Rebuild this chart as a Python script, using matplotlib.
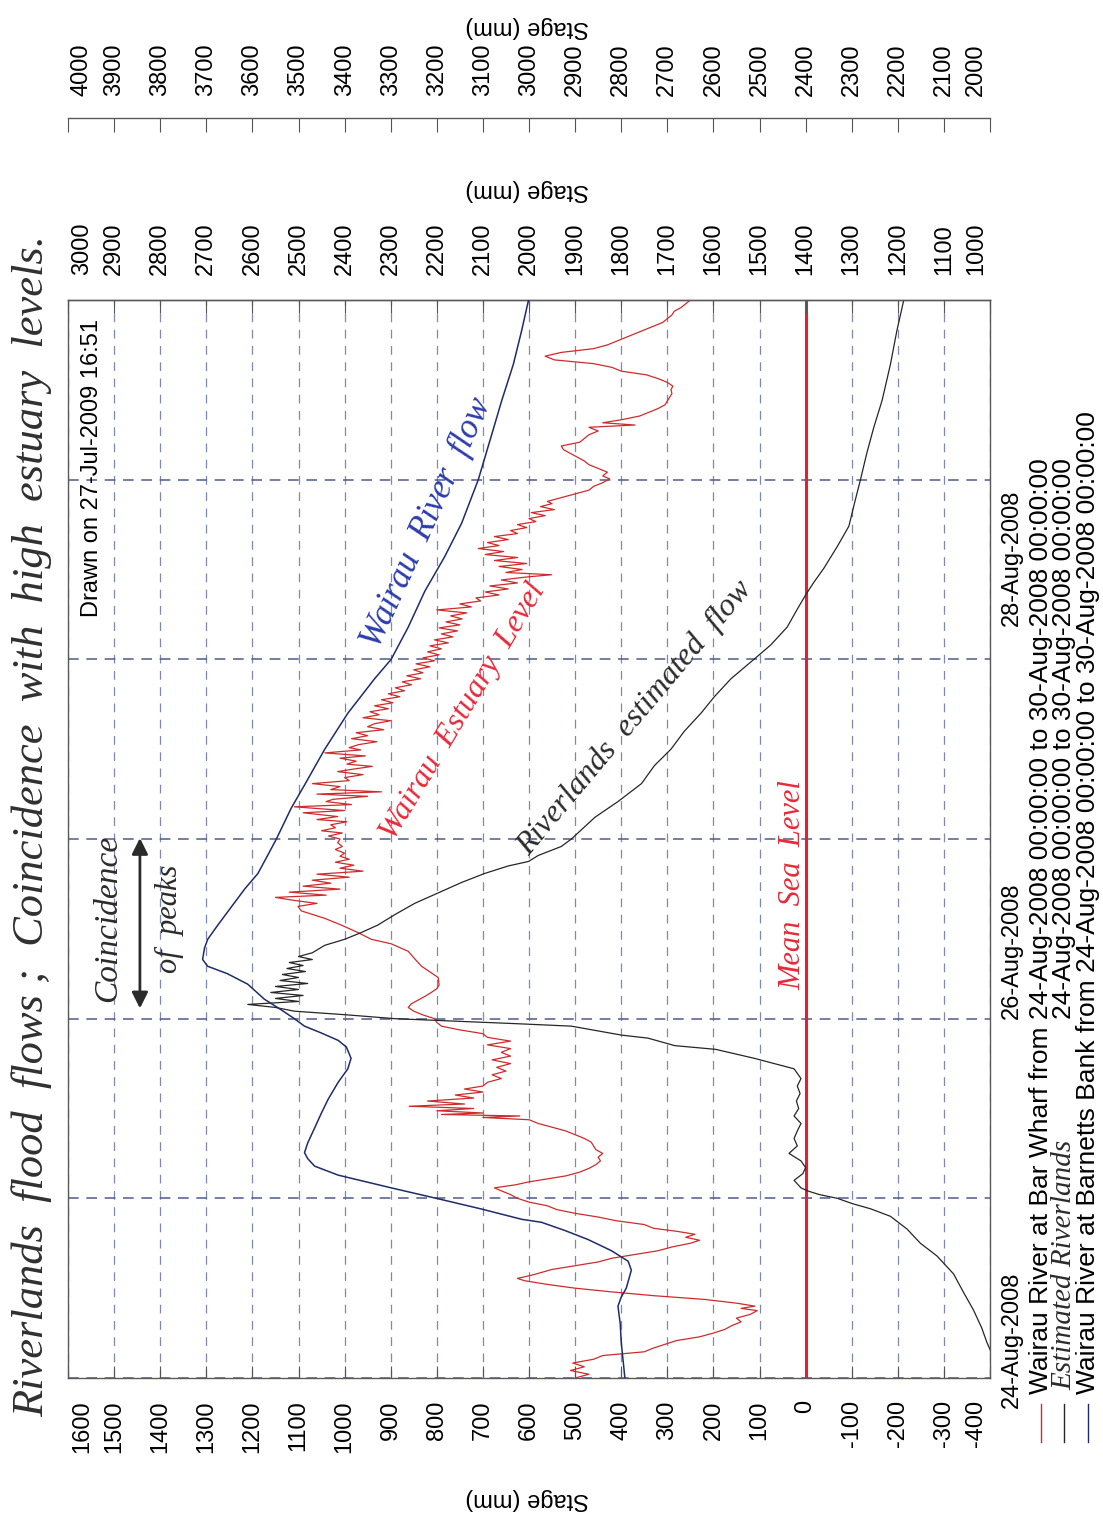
import matplotlib.pyplot as plt
import matplotlib.transforms as mtransforms
from matplotlib.lines import Line2D
import numpy as np

# hours after 24-Aug-2008 00:00 -> stage (mm)
bar_wharf = [
    (0.0, 500), (0.5, 470), (1.0, 510), (1.5, 480), (2.0, 505), (2.5, 460), (3.0, 440),
    (3.5, 350), (4.0, 330), (5.0, 280), (5.5, 230), (6.0, 200), (6.5, 175), (7.0, 160),
    (7.5, 140), (8.0, 150), (8.5, 120), (9.0, 105), (9.3, 140), (9.6, 110), (10.0, 150),
    (10.5, 220), (11.0, 330), (11.5, 420), (12.0, 500), (12.5, 560), (13.0, 610),
    (13.3, 625), (13.8, 590), (14.5, 550), (15.0, 500), (15.5, 450), (16.0, 420),
    (16.5, 370), (17.0, 320), (17.5, 290), (18.0, 250), (18.4, 230), (18.8, 260),
    (19.2, 240), (19.6, 280), (20.0, 330), (20.5, 350), (21.0, 410), (21.5, 450),
    (22.0, 500), (22.5, 540), (23.0, 560), (23.5, 600), (24.0, 625), (24.5, 640),
    (25.0, 660), (25.4, 675), (25.8, 630), (26.2, 600), (26.6, 560), (27.0, 520),
    (27.5, 490), (28.0, 470), (28.5, 455), (29.0, 445), (29.5, 450), (30.0, 440),
    (30.5, 455), (31.0, 460), (31.5, 465), (32.0, 480), (32.5, 500), (33.0, 520),
    (33.5, 550), (34.0, 580), (34.5, 600), (34.8, 700), (35.0, 620), (35.2, 790),
    (35.4, 700), (35.7, 800), (36.0, 720), (36.3, 860), (36.6, 740), (37.0, 820),
    (37.4, 720), (37.8, 760), (38.2, 700), (38.6, 740), (39.0, 700), (39.5, 690),
    (40.0, 660), (40.5, 680), (41.0, 650), (41.5, 670), (42.0, 640), (42.5, 680),
    (43.0, 640), (43.5, 660), (44.0, 640), (44.5, 690), (45.0, 640), (45.5, 690),
    (46.0, 700), (46.5, 750), (47.0, 790), (47.5, 800), (48.0, 805), (48.5, 830),
    (49.0, 850), (49.5, 862), (50.0, 855), (50.5, 840), (51.0, 825), (51.5, 812),
    (52.0, 800), (52.5, 795), (53.5, 797), (55.0, 833), (56.0, 848), (57.0, 862),
    (58.0, 899), (58.6, 942), (59.5, 971), (60.5, 1007), (61.4, 1043), (62.4, 1094),
    (63.0, 1101), (63.4, 1060), (63.8, 1110), (64.2, 1150), (64.5, 1040), (64.9, 1120),
    (65.3, 1010), (65.7, 1090), (66.1, 1030), (66.5, 1070), (66.9, 990), (67.3, 1060),
    (67.7, 960), (68.1, 1010), (68.5, 980), (68.9, 1020), (69.3, 990), (69.7, 1010),
    (70.1, 1000), (70.6, 1020), (71.0, 1005), (71.5, 1015), (72.0, 1010), (72.4, 1035),
    (72.8, 1005), (73.1, 1050), (73.5, 1020), (73.9, 1030), (74.3, 995), (74.6, 1060),
    (75.0, 1015), (75.5, 1090), (75.8, 1000), (76.3, 1109), (76.6, 985), (77.0, 1040),
    (77.3, 1025), (77.7, 950), (78.0, 1060), (78.3, 920), (78.6, 1030), (79.0, 1010),
    (79.4, 1070), (79.8, 990), (80.2, 1000), (80.6, 960), (81.0, 1015), (81.3, 985),
    (81.7, 940), (82.0, 995), (82.4, 975), (82.8, 1010), (83.1, 955), (83.5, 1043),
    (83.9, 965), (84.2, 990), (84.6, 970), (85.0, 930), (85.4, 985), (85.8, 950),
    (86.2, 975), (86.6, 915), (87.0, 950), (87.4, 935), (87.8, 900), (88.2, 960),
    (88.6, 925), (89.0, 945), (89.4, 905), (89.8, 935), (90.2, 895), (90.6, 920),
    (91.0, 880), (91.4, 905), (91.8, 870), (92.2, 890), (92.6, 855), (93.0, 875),
    (93.4, 835), (93.8, 865), (94.2, 830), (94.6, 850), (95.0, 815), (95.4, 845),
    (95.8, 805), (96.2, 830), (96.6, 795), (97.0, 820), (97.4, 790), (97.8, 815),
    (98.2, 775), (98.6, 805), (99.0, 765), (99.4, 790), (99.8, 755), (100.2, 795),
    (100.6, 750), (101.0, 780), (101.4, 745), (101.8, 770), (102.2, 735), (102.6, 800),
    (103.0, 725), (103.4, 750), (103.8, 705), (104.2, 715), (104.6, 665), (105.0, 695),
    (105.4, 645), (105.8, 685), (106.2, 625), (106.6, 660), (107.0, 605), (107.3, 551),
    (107.6, 650), (108.0, 615), (108.4, 665), (108.8, 605), (109.2, 675), (109.6, 625),
    (110.0, 695), (110.4, 655), (110.8, 710), (111.2, 665), (111.6, 690), (112.0, 645),
    (112.4, 675), (112.8, 625), (113.2, 640), (113.6, 605), (114.0, 625), (114.4, 585),
    (114.8, 600), (115.2, 565), (115.6, 595), (116.0, 545), (116.4, 575), (116.8, 550),
    (117.1, 560), (117.6, 530), (118.1, 500), (118.6, 470), (119.1, 460), (119.6, 440),
    (120.1, 425), (120.5, 440), (121.0, 430), (121.5, 450), (122.0, 470), (122.5, 480),
    (123.0, 495), (123.5, 510), (124.0, 525), (124.5, 530), (125.0, 490), (125.5, 480),
    (126.0, 470), (126.5, 450), (127.0, 470), (127.3, 370), (127.6, 440), (128.0, 400),
    (128.5, 360), (129.0, 340), (129.5, 320), (130.0, 305), (130.5, 300), (131.0, 295),
    (131.5, 290), (132.0, 292), (132.5, 288), (133.0, 300), (133.5, 320), (134.0, 345),
    (134.5, 400), (135.0, 420), (135.5, 460), (136.0, 545), (136.5, 565), (137.0, 530),
    (137.5, 460), (138.0, 430), (138.5, 410), (139.0, 390), (139.5, 370), (140.0, 350),
    (140.5, 330), (141.0, 310), (141.5, 300), (142.0, 290), (142.5, 285), (143.0, 270),
    (143.5, 260), (144.0, 250),
]

riverlands = [
    (0.0, 970), (2.4, 990), (4.8, 1007), (6.7, 1018), (9.1, 1036), (11.5, 1058),
    (13.9, 1079), (16.3, 1115), (18.0, 1151), (19.9, 1180), (21.6, 1216), (22.6, 1259),
    (23.3, 1299), (24.0, 1331), (24.5, 1370), (25.0, 1396), (25.4, 1410), (26.4, 1425),
    (27.3, 1406), (28.1, 1400), (29.0, 1410), (30.0, 1436), (31.0, 1418), (32.0, 1425),
    (33.0, 1418), (34.0, 1410), (35.0, 1425), (36.0, 1415), (37.0, 1420), (38.0, 1412),
    (39.0, 1418), (40.0, 1410), (41.3, 1425), (42.7, 1511), (43.9, 1595), (44.4, 1684),
    (45.4, 1742), (45.8, 1799), (47.0, 1908), (47.3, 2016), (48.0, 2291), (48.5, 2393),
    (49.0, 2509), (49.5, 2550), (49.9, 2610), (50.3, 2500), (50.7, 2550), (51.1, 2490),
    (51.5, 2560), (51.9, 2500), (52.3, 2550), (52.7, 2480), (53.1, 2540), (53.5, 2500),
    (53.9, 2535), (54.3, 2485), (54.7, 2525), (55.1, 2490), (55.5, 2520), (55.9, 2470),
    (56.3, 2500), (56.8, 2470), (57.8, 2443), (58.6, 2400), (59.5, 2364), (60.5, 2328),
    (61.9, 2291), (63.4, 2248), (64.8, 2197), (66.2, 2146), (67.4, 2096), (68.4, 2045),
    (69.0, 2001), (69.8, 1980), (71.0, 1930), (72.0, 1908), (74.9, 1857), (77.0, 1807),
    (79.4, 1756), (81.8, 1728), (84.0, 1692), (86.4, 1663), (88.8, 1627), (91.0, 1598),
    (93.4, 1562), (96.0, 1512), (97.9, 1476), (100.3, 1440), (102.7, 1418), (104.6, 1400),
    (106.3, 1382), (108.2, 1360), (111.1, 1331), (113.8, 1306), (116.6, 1295),
    (120.0, 1281), (123.6, 1267), (127.0, 1252), (130.6, 1234), (135.4, 1216),
    (139.9, 1202), (144.0, 1187),
]

barnetts_bank = [
    (0.0, 2792), (2.4, 2796), (4.8, 2800), (7.2, 2802), (9.6, 2807), (10.8, 2800),
    (12.0, 2789), (14.4, 2778), (15.6, 2785), (17.0, 2821), (18.5, 2872), (19.7, 2922),
    (20.8, 2973), (21.2, 3016), (22.6, 3105), (24.0, 3201), (25.4, 3299), (27.1, 3414),
    (28.3, 3465), (29.3, 3480), (30.1, 3487), (31.4, 3480), (33.4, 3465), (35.3, 3451),
    (37.2, 3436), (39.5, 3414), (41.3, 3393), (42.7, 3386), (44.2, 3396), (45.1, 3414),
    (46.1, 3451), (47.0, 3487), (48.0, 3509), (49.2, 3538), (50.6, 3574), (52.6, 3610),
    (54.0, 3654), (55.0, 3697), (55.9, 3708), (57.4, 3704), (58.6, 3697), (60.5, 3675),
    (62.9, 3646), (65.3, 3617), (67.4, 3588), (69.8, 3567), (72.0, 3548), (76.1, 3516),
    (79.2, 3487), (84.0, 3443), (88.8, 3393), (93.4, 3335), (96.0, 3299), (100.3, 3262),
    (105.1, 3226), (109.7, 3183), (114.2, 3146), (120.0, 3110), (126.0, 3081),
    (130.6, 3059), (135.4, 3034), (139.9, 3016), (144.0, 3001),
]

mean_sea_level = 0
day_hours = np.arange(0, 145, 24)
# where the date labels begin along the time axis (hours)
date_labels = [(-4, "24-Aug-2008"), (48, "26-Aug-2008"), (100.5, "28-Aug-2008")]
left_ticks = np.arange(-400, 1601, 100)
mid_ticks = np.arange(1000, 3001, 100)
top_ticks = np.arange(2000, 4001, 100)

period = "24-Aug-2008 00:00:00 to 30-Aug-2008 00:00:00"
red, black, navy = "#cf2b2b", "#262626", "#1f2c6b"

plt.rcParams["font.family"] = ["Liberation Sans", "DejaVu Sans"]
plt.rcParams["axes.unicode_minus"] = False
hand = dict(family="Liberation Serif", style="italic")

W, H = 1103, 1517
fig = plt.figure(figsize=(W / 100, H / 100), dpi=100)
ax = fig.add_axes([68 / W, 1 - 1378 / H, 922 / W, 1078 / H])
ax2 = ax.twiny()
ax3 = ax.twiny()

rh, rv = zip(*bar_wharf)
bh, bv = zip(*riverlands)
nh, nv = zip(*barnetts_bank)
ax.plot(rv, rh, color=red, lw=0.9)
ax2.plot(bv, bh, color=black, lw=0.9)
ax3.plot(nv, nh, color=navy, lw=1.1)
ax.axvline(mean_sea_level, color="#e41f32", lw=2.2, zorder=3)

ax.set_xlim(1600, -400)
ax2.set_xlim(3000, 1000)
ax3.set_xlim(4000, 2000)
ax.set_ylim(0, 144)

ax.set_xticks(left_ticks)
ax2.set_xticks(mid_ticks)
ax3.set_xticks(top_ticks)
ax.set_yticks(day_hours)
ax.tick_params(axis="y", length=0, labelleft=False)
ax.tick_params(axis="x", direction="in", length=9, pad=16, labelsize=17,
               labelrotation=90, color="#555555")
ax2.tick_params(axis="x", direction="in", length=9, pad=18, labelsize=17,
                labelrotation=90, color="#555555")
ax3.tick_params(axis="x", direction="in", length=10, pad=16, labelsize=17,
                labelrotation=90, color="#555555")
ax3.spines["top"].set_position(("outward", 131))
for a in (ax2, ax3):
    for s in ("left", "right", "bottom"):
        a.spines[s].set_visible(False)
for a in (ax, ax2, ax3):
    for s in a.spines.values():
        s.set_color("#5a5a5a")
        s.set_linewidth(1.0)

ax.xaxis.grid(True, linestyle=(0, (7, 6)), color="#7d88b5", lw=0.9)
ax.yaxis.grid(True, linestyle=(0, (7, 5)), color="#4e5b8e", lw=1.1)

dtrans = mtransforms.blended_transform_factory(ax.transAxes, ax.transData)
for h, lab in date_labels:
    ax.text(1.012, h, lab, transform=dtrans, rotation=90, ha="left", va="bottom",
            fontsize=17, clip_on=False)

ax.text(0.026, 0.982, "Drawn on 27-Jul-2009 16:51", transform=ax.transAxes,
        rotation=90, ha="center", va="top", fontsize=17)

for y in (1499, 190, 27):
    fig.text(527 / W, 1 - y / H, "Stage (mm)", rotation=180, ha="center", va="center",
             fontsize=17)

# handwritten notes
fig.text(32 / W, 1 - 826 / H, "Riverlands  flood  flows ;  Coincidence  with  high  estuary  levels.",
         rotation=90, ha="center", va="center", fontsize=32, color="#303030", **hand)
ax.text(821, 114.2, "Wairau  River  flow", rotation=65.5, ha="center", va="center",
        fontsize=25, color="#2b3cae", **hand)
ax.text(743, 89.0, "Wairau  Estuary  Level", rotation=59, ha="center", va="center",
        fontsize=23, color="#e62a3a", **hand)
ax.text(370, 88.1, "Riverlands  estimated  flow", rotation=50, ha="center", va="center",
        fontsize=23, color="#2b2b2b", **hand)
ax.text(27, 65.8, "Mean  Sea  Level", rotation=90, ha="center", va="center",
        fontsize=22, color="#e62a3a", **hand)
ax.text(1513, 61.4, "Coincidence", rotation=90, ha="center", va="center",
        fontsize=24, color="#2b2b2b", **hand)
ax.text(1379, 61.4, "of  peaks", rotation=90, ha="center", va="center",
        fontsize=22, color="#2b2b2b", **hand)
ax.annotate("", xy=(1444, 72.5), xytext=(1444, 49),
            arrowprops=dict(arrowstyle="<|-|>", color="#2b2b2b", lw=2.0, mutation_scale=24))

# legend, drawn by hand because it is rotated
leg_x = [1041 / W, 1064 / W, 1088 / W]
t1 = fig.text(leg_x[0], 1 - 1394 / H, "Wairau River at Bar Wharf from " + period,
              rotation=90, ha="center", va="bottom", fontsize=19)
fig.text(leg_x[1], 1 - 1390 / H, "Estimated Riverlands", rotation=90, ha="center",
         va="bottom", fontsize=21, color="#2b2b2b", **hand)
fig.text(leg_x[2], 1 - 1394 / H, "Wairau River at Barnetts Bank from " + period,
         rotation=90, ha="center", va="bottom", fontsize=19)
for x, c in zip(leg_x, (red, black, navy)):
    fig.add_artist(Line2D([x, x], [1 - 1404 / H, 1 - 1442 / H], color=c, lw=1.0,
                          transform=fig.transFigure))

fig.canvas.draw()
top_end = t1.get_window_extent().y1 / fig.bbox.height
fig.text(leg_x[1], top_end, period, rotation=90, ha="center", va="top", fontsize=19)

# nudge the end labels inside the frame like the original
shift = 10 / 72
for a in (ax, ax2, ax3):
    labs = a.xaxis.get_majorticklabels()
    first, last = labs[0], labs[-1]
    first.set_transform(first.get_transform()
                        + mtransforms.ScaledTranslation(-shift, 0, fig.dpi_scale_trans))
    last.set_transform(last.get_transform()
                       + mtransforms.ScaledTranslation(shift, 0, fig.dpi_scale_trans))

fig.savefig("out.png", dpi=100)
